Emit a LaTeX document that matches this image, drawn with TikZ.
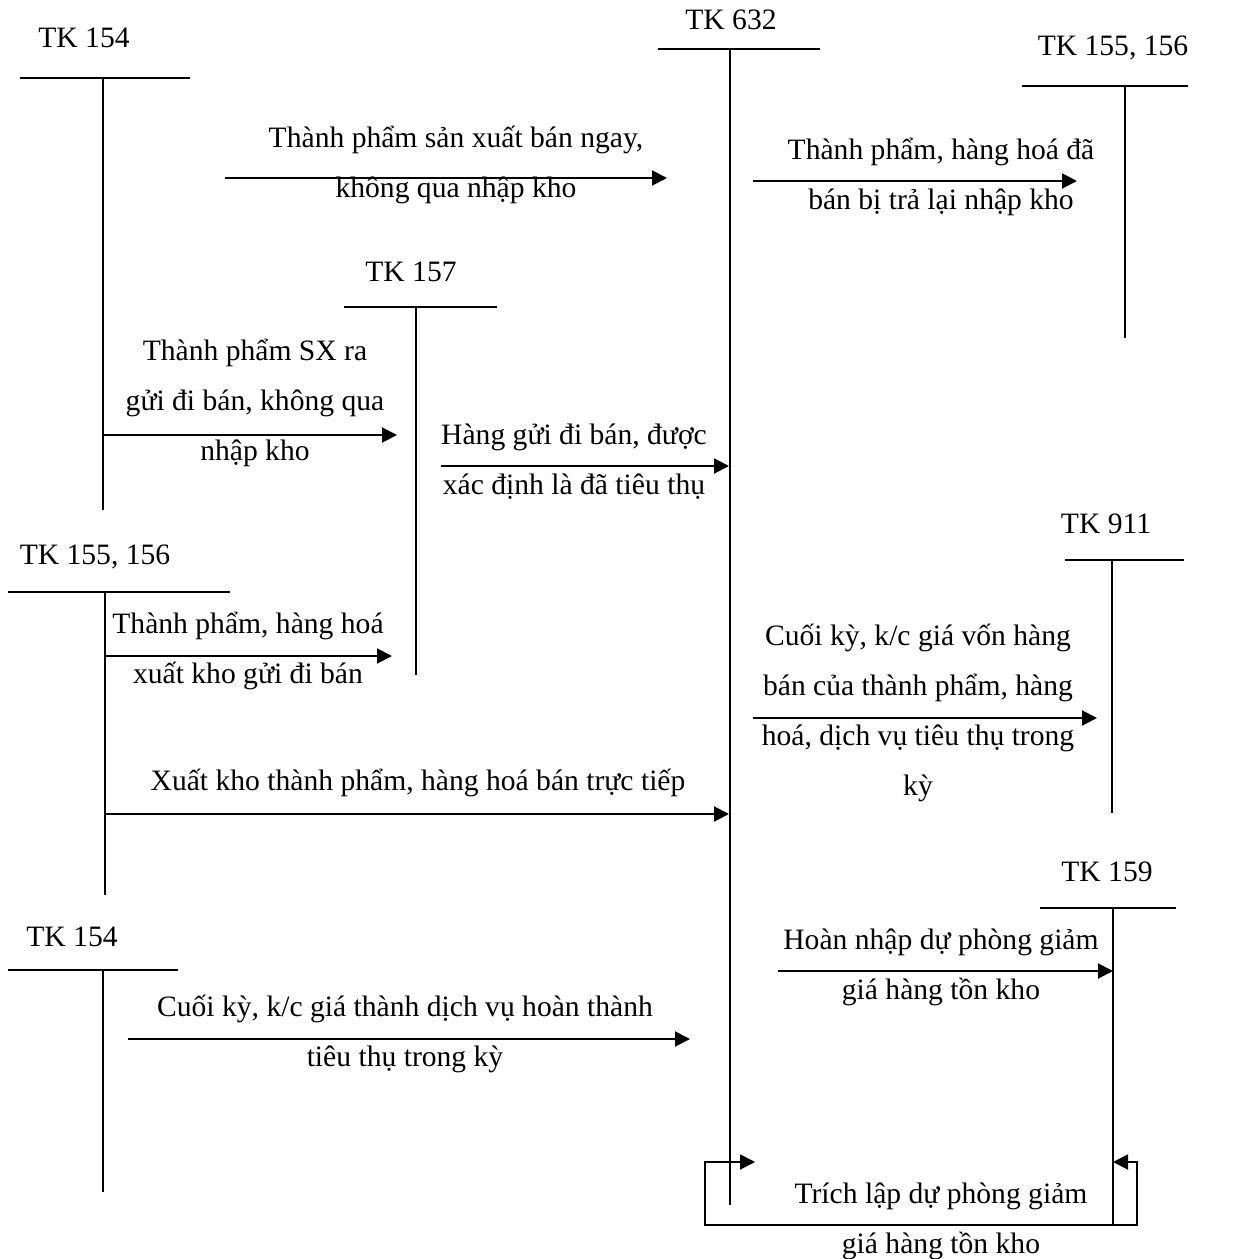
\documentclass[tikz,border=0pt]{standalone}
\usepackage{fontspec}
\setmainfont{Liberation Serif}
\usetikzlibrary{arrows.meta}
\begin{document}
\begin{tikzpicture}[x=0.5pt,y=-0.5pt,
  every node/.style={font=\fontsize{14.8}{25}\selectfont, inner sep=0pt, align=center},
  acct/.style={line width=1pt},
  flow/.style={line width=1pt,-{Triangle[length=7.5pt,width=7.5pt]}},
  both/.style={line width=1pt,{Triangle[length=7.5pt,width=7.5pt]}-{Triangle[length=7.5pt,width=7.5pt]}}]
\useasboundingbox (0,0) rectangle (1243,1259);

% ---- T-accounts: title, top bar, vertical axis ----
\node (k154a) at (84,38) {TK 154};
\coordinate (a154L) at (20,78);   \coordinate (a154R) at (190,78);
\coordinate (a154T) at (103,78);  \coordinate (a154B) at (103,510);
\draw[acct] (a154L) -- (a154R) (a154T) -- (a154B);

\node (k632) at (731,20) {TK 632};
\coordinate (a632L) at (658,49);  \coordinate (a632R) at (820,49);
\coordinate (a632T) at (730,49);  \coordinate (a632B) at (730,1205);
\draw[acct] (a632L) -- (a632R) (a632T) -- (a632B);

\node (k155a) at (1113,48) {TK 155, 156};
\coordinate (a155L) at (1022,86); \coordinate (a155R) at (1188,86);
\coordinate (a155T) at (1125,86); \coordinate (a155B) at (1125,338);
\draw[acct] (a155L) -- (a155R) (a155T) -- (a155B);

\node (k157) at (411,272) {TK 157};
\coordinate (a157L) at (344,307); \coordinate (a157R) at (497,307);
\coordinate (a157T) at (416,307); \coordinate (a157B) at (416,675);
\draw[acct] (a157L) -- (a157R) (a157T) -- (a157B);

\node (k155b) at (95,557) {TK 155, 156};
\coordinate (b155L) at (8,592);   \coordinate (b155R) at (230,592);
\coordinate (b155T) at (105,592); \coordinate (b155B) at (105,895);
\draw[acct] (b155L) -- (b155R) (b155T) -- (b155B);

\node (k911) at (1106,524) {TK 911};
\coordinate (a911L) at (1065,560); \coordinate (a911R) at (1184,560);
\coordinate (a911T) at (1112,560); \coordinate (a911B) at (1112,813);
\draw[acct] (a911L) -- (a911R) (a911T) -- (a911B);

\node (k159) at (1107,872) {TK 159};
\coordinate (a159L) at (1040,908); \coordinate (a159R) at (1176,908);
\coordinate (a159T) at (1113,908); \coordinate (a159B) at (1113,1225);
\draw[acct] (a159L) -- (a159R) (a159T) -- (a159B);

\node (k154b) at (72,937) {TK 154};
\coordinate (b154L) at (8,970);   \coordinate (b154R) at (178,970);
\coordinate (b154T) at (103,970); \coordinate (b154B) at (103,1192);
\draw[acct] (b154L) -- (b154R) (b154T) -- (b154B);

% ---- flows ----
\coordinate (f1s) at (225,178); \coordinate (f1e) at (667,178);
\draw[flow] (f1s) -- (f1e);
\node (t1) at (456,165) {Thành phẩm sản xuất bán ngay,\\không qua nhập kho};

\coordinate (f2s) at (753,181); \coordinate (f2e) at (1077,181);
\draw[flow] (f2s) -- (f2e);
\node (t2) at (941,177) {Thành phẩm, hàng hoá đã\\bán bị trả lại nhập kho};

\coordinate (f3s) at (103,435); \coordinate (f3e) at (397,435);
\draw[flow] (f3s) -- (f3e);
\node (t3) at (255,403) {Thành phẩm SX ra\\gửi đi bán, không qua\\nhập kho};

\coordinate (f4s) at (441,466); \coordinate (f4e) at (729,466);
\draw[flow] (f4s) -- (f4e);
\node (t4) at (574,462) {Hàng gửi đi bán, được\\xác định là đã tiêu thụ};

\coordinate (f5s) at (105,656); \coordinate (f5e) at (392,656);
\draw[flow] (f5s) -- (f5e);
\node (t5) at (248,651) {Thành phẩm, hàng hoá\\xuất kho gửi đi bán};

\coordinate (f6s) at (105,814); \coordinate (f6e) at (729,814);
\draw[flow] (f6s) -- (f6e);
\node (t6) at (418,783) {Xuất kho thành phẩm, hàng hoá bán trực tiếp};

\coordinate (f7s) at (753,718); \coordinate (f7e) at (1097,718);
\draw[flow] (f7s) -- (f7e);
\node (t7) at (918,713) {Cuối kỳ, k/c giá vốn hàng\\bán của thành phẩm, hàng\\hoá, dịch vụ tiêu thụ trong\\kỳ};

\coordinate (f8s) at (778,971); \coordinate (f8e) at (1113,971);
\draw[flow] (f8s) -- (f8e);
\node (t8) at (941,967) {Hoàn nhập dự phòng giảm\\giá hàng tồn kho};

\coordinate (f9s) at (128,1039); \coordinate (f9e) at (690,1039);
\draw[flow] (f9s) -- (f9e);
\node (t9) at (405,1034) {Cuối kỳ, k/c giá thành dịch vụ hoàn thành\\tiêu thụ trong kỳ};

% ---- provision loop between TK 159 and TK 632 ----
\coordinate (lpR) at (1113,1162); \coordinate (lpRR) at (1137,1162);
\coordinate (lpBR) at (1137,1225); \coordinate (lpBL) at (705,1225);
\coordinate (lpLL) at (705,1162); \coordinate (lpL) at (755,1162);
\draw[both] (lpR) -- (lpRR) -- (lpBR) -- (lpBL) -- (lpLL) -- (lpL);
\node (t10) at (941,1221) {Trích lập dự phòng giảm\\giá hàng tồn kho};
\end{tikzpicture}
\end{document}
